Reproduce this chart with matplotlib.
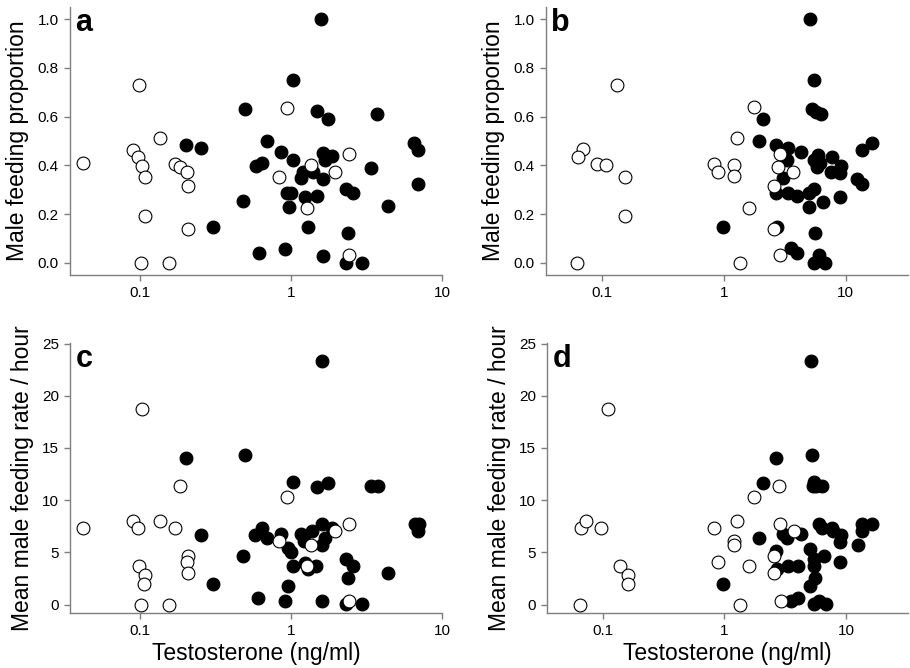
import matplotlib
matplotlib.use("Agg")
import matplotlib.pyplot as plt
import matplotlib.ticker as mticker

plt.rcParams['font.family'] = ['Liberation Sans', 'DejaVu Sans']

# panel a: proportion vs T (measure 1)
a_open_x = [0.0425, 0.099, 0.1356, 0.0903, 0.098, 0.104, 0.108, 0.108, 0.102, 0.156, 0.172, 0.186,
            0.207, 0.210, 0.210, 0.946, 2.44, 1.357, 1.96, 0.839, 1.28, 2.44]
a_open_y = [0.408, 0.729, 0.513, 0.465, 0.435, 0.399, 0.353, 0.194, 0.0, 0.0, 0.405, 0.394,
            0.371, 0.315, 0.137, 0.637, 0.446, 0.401, 0.371, 0.353, 0.226, 0.031]
a_fill_x = [0.202, 0.255, 0.306, 1.59, 1.035, 0.498, 1.50, 1.75, 3.74, 0.700, 0.861, 1.03, 0.588,
            0.650, 1.635, 1.88, 1.675, 1.197, 1.168, 1.40, 1.627, 3.38, 6.56, 6.90, 6.90, 2.32,
            2.58, 0.951, 1.0, 1.24, 1.48, 0.483, 0.966, 4.41, 1.30, 2.39, 0.615, 0.913, 1.63,
            2.32, 2.97]
a_fill_y = [0.484, 0.472, 0.145, 1.0, 0.752, 0.632, 0.625, 0.590, 0.611, 0.501, 0.454, 0.424, 0.397,
            0.409, 0.449, 0.438, 0.421, 0.371, 0.350, 0.371, 0.343, 0.390, 0.491, 0.464, 0.323, 0.304,
            0.285, 0.285, 0.285, 0.271, 0.274, 0.252, 0.228, 0.235, 0.145, 0.123, 0.041, 0.057, 0.030,
            0.0, 0.0]

# panel b: proportion vs T (measure 2)
b_open_x = [0.0624, 0.0703, 0.0639, 0.0916, 0.108, 0.133, 0.153, 0.153, 1.75, 1.29, 0.829, 0.90,
            1.21, 1.20, 2.88, 2.79, 3.72, 2.58, 1.60, 2.56, 2.88, 1.365]
b_open_y = [0.0, 0.466, 0.434, 0.407, 0.400, 0.728, 0.352, 0.194, 0.638, 0.514, 0.406, 0.372,
            0.400, 0.355, 0.445, 0.392, 0.372, 0.316, 0.225, 0.138, 0.031, 0.0]
b_fill_x = [5.11, 5.50, 5.30, 5.68, 6.23, 2.08, 1.93, 2.69, 3.34, 4.26, 3.30, 5.86, 5.50, 6.15, 5.75,
            7.75, 9.17, 7.51, 8.94, 16.4, 13.6, 12.3, 13.6, 3.03, 2.67, 3.34, 4.01, 5.01, 5.50, 6.55,
            8.94, 5.01, 0.99, 2.71, 5.54, 3.54, 4.01, 6.0, 5.5, 6.80]
b_fill_y = [1.0, 0.751, 0.631, 0.620, 0.609, 0.589, 0.500, 0.485, 0.473, 0.455, 0.422, 0.444, 0.422,
            0.410, 0.395, 0.436, 0.396, 0.372, 0.369, 0.490, 0.463, 0.344, 0.322, 0.348, 0.286, 0.286,
            0.275, 0.288, 0.303, 0.251, 0.272, 0.231, 0.146, 0.146, 0.124, 0.059, 0.042, 0.031, 0.0,
            0.0]

# panel c: feeding rate vs T (measure 1)
c_open_x = [0.0425, 0.1036, 0.0899, 0.098, 0.1356, 0.186, 0.172, 0.210, 0.205, 0.210, 0.0995, 0.108,
            0.107, 0.102, 0.156, 0.942, 2.43, 1.95, 1.36, 0.834, 1.28, 2.43]
c_open_y = [7.34, 18.69, 8.04, 7.34, 8.04, 11.38, 7.34, 4.68, 4.04, 3.01, 3.72, 2.85,
            2.02, 0.0, 0.0, 10.32, 7.72, 7.02, 5.71, 6.09, 3.72, 0.35]
c_fill_x = [0.202, 0.255, 0.306, 1.60, 0.495, 1.03, 1.50, 1.76, 3.38, 3.77, 6.65, 7.0, 6.89, 1.62,
            1.88, 1.68, 1.62, 1.39, 1.17, 1.22, 0.856, 0.642, 0.584, 0.70, 0.955, 0.996, 0.480, 1.03,
            1.235, 1.30, 1.47, 2.32, 2.57, 2.39, 4.41, 0.955, 0.611, 0.91, 1.62, 2.32, 2.96]
c_fill_y = [14.0, 6.67, 2.02, 23.3, 14.33, 11.76, 11.31, 11.67, 11.35, 11.35, 7.72, 7.72, 7.05, 7.72,
            7.34, 6.35, 5.71, 7.05, 6.76, 6.09, 6.76, 7.34, 6.67, 6.35, 5.38, 5.06, 4.68, 3.72,
            3.94, 3.37, 3.69, 4.36, 3.69, 2.53, 3.01, 1.79, 0.67, 0.35, 0.35, 0.03, 0.03]

# panel d: feeding rate vs T (measure 2)
d_open_x = [0.0647, 0.0664, 0.073, 0.0957, 0.111, 0.139, 0.160, 0.160, 0.813, 1.27, 1.75, 2.79,
            2.88, 3.72, 1.19, 1.20, 0.882, 1.58, 2.57, 2.57, 2.90, 1.34]
d_open_y = [0.0, 7.34, 8.04, 7.34, 18.69, 3.72, 2.85, 2.02, 7.34, 8.04, 10.35, 11.35,
            7.72, 7.02, 6.06, 5.71, 4.04, 3.72, 4.68, 3.04, 0.35, 0.0]
d_fill_x = [5.13, 5.30, 2.65, 2.09, 5.50, 5.71, 6.32, 5.37, 1.91, 2.65, 2.69, 3.01, 3.28, 4.30, 6.01,
            6.32, 7.64, 7.82, 9.16, 8.99, 13.6, 16.5, 13.6, 12.6, 5.04, 5.50, 6.56, 5.50, 8.99, 3.32,
            3.99, 5.57, 5.04, 0.975, 3.54, 3.99, 5.50, 6.04, 6.81]
d_fill_y = [23.3, 14.33, 14.0, 11.67, 11.73, 11.35, 11.35, 11.35, 6.35, 5.13, 3.37, 6.76, 6.35, 6.76, 7.72,
            7.34, 7.34, 7.05, 6.67, 6.03, 7.72, 7.72, 7.05, 5.71, 5.35, 4.36, 4.68, 3.72, 4.04, 3.72,
            3.72, 2.53, 1.79, 2.02, 0.35, 0.67, 0.03, 0.35, 0.03]

W, H = 910, 668
fig = plt.figure(figsize=(W / 100, H / 100), dpi=100)

def box(l, r, t, b):
    return [l / W, 1 - b / H, (r - l) / W, (b - t) / H]

panels = [
    ('a', box(70, 442, 7, 275), a_open_x, a_open_y, a_fill_x, a_fill_y, (10**-1.46, 10), 'prop'),
    ('b', box(546, 908, 7, 275), b_open_x, b_open_y, b_fill_x, b_fill_y, (10**-1.46, 10**1.51), 'prop'),
    ('c', box(70, 442, 343, 613), c_open_x, c_open_y, c_fill_x, c_fill_y, (10**-1.46, 10), 'rate'),
    ('d', box(547, 908, 343, 613), d_open_x, d_open_y, d_fill_x, d_fill_y, (10**-1.46, 10**1.51), 'rate'),
]

grey = '#7f7f7f'
for letter, pos, ox, oy, fx, fy, xl, kind in panels:
    ax = fig.add_axes(pos)
    ax.scatter(fx, fy, s=85, c='black', edgecolors='black', linewidths=0.8, zorder=3)
    ax.scatter(ox, oy, s=85, c='white', edgecolors='black', linewidths=0.8, zorder=4)
    ax.set_xscale('log')
    ax.set_xlim(*xl)
    ax.xaxis.set_major_locator(mticker.FixedLocator([0.1, 1, 10]))
    ax.xaxis.set_major_formatter(mticker.FixedFormatter(['0.1', '1', '10']))
    ax.xaxis.set_minor_locator(mticker.NullLocator())
    if kind == 'prop':
        ax.set_ylim(-0.05, 1.05)
        ax.set_yticks([0, 0.2, 0.4, 0.6, 0.8, 1.0])
        ax.set_yticklabels(['0.0', '0.2', '0.4', '0.6', '0.8', '1.0'])
        ax.set_ylabel('Male feeding proportion', fontsize=16.5, labelpad=6)
    else:
        ax.set_ylim(-0.8, 25.05)
        ax.set_yticks([0, 5, 10, 15, 20, 25])
        ax.set_ylabel('Mean male feeding rate / hour', fontsize=16.5, labelpad=6)
        ax.set_xlabel('Testosterone (ng/ml)', fontsize=16.5, labelpad=3)
    for s in ['top', 'right']:
        ax.spines[s].set_visible(False)
    for s in ['left', 'bottom']:
        ax.spines[s].set_color(grey)
        ax.spines[s].set_linewidth(1.0)
    ax.tick_params(axis='both', colors=grey, labelcolor='black', labelsize=11,
                   length=4, width=1.0, direction='out', pad=4)
    ax.text(0.015, 0.995, letter, transform=ax.transAxes, fontsize=22, fontweight='bold',
            ha='left', va='top')

fig.savefig('out.png', dpi=100)
